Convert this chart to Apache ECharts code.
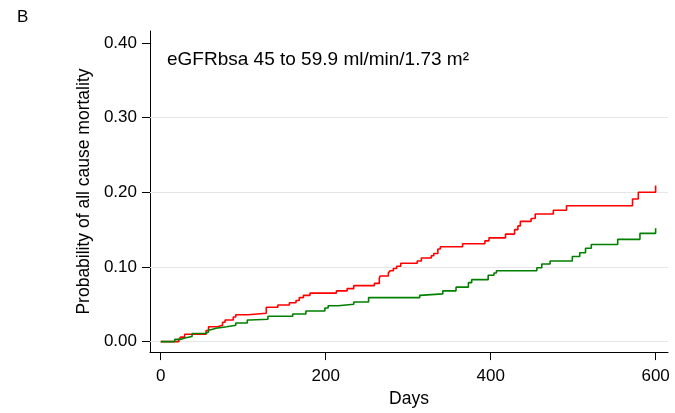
<!DOCTYPE html>
<html>
<head>
<meta charset="utf-8">
<script src="https://cdn.jsdelivr.net/npm/echarts@6/dist/echarts.min.js"></script>
<style>html,body{margin:0;padding:0;background:#fff}#c{width:675px;height:413px}</style>
</head>
<body>
<div id="c"></div>
<script>
// Red group: event day and cumulative probability after the step
const redDays = [0,22,24,29,55,58,69,75,78,88,91,106,128,142,156,164,168,173,181,213,226,234,259,265,266,276,278,282,286,291,311,316,328,331,336,339,366,393,398,418,429,433,436,449,454,476,492,572,579,600];
const redProb = [0,0.003,0.006,0.010,0.015,0.020,0.022,0.026,0.029,0.033,0.036,0.038,0.046,0.049,0.052,0.055,0.059,0.062,0.065,0.068,0.071,0.075,0.078,0.085,0.088,0.092,0.095,0.098,0.101,0.105,0.108,0.112,0.115,0.118,0.124,0.127,0.131,0.135,0.139,0.144,0.150,0.155,0.161,0.165,0.171,0.176,0.182,0.191,0.200,0.209];
// Green group
const greenDays = [0,17,24,29,38,54,58,61,67,80,91,105,108,130,160,176,199,203,215,234,252,314,316,342,358,373,377,397,404,407,456,462,472,499,508,515,522,554,581,600];
const greenProb = [0,0.003,0.005,0.007,0.011,0.013,0.016,0.018,0.020,0.022,0.025,0.029,0.030,0.034,0.037,0.041,0.045,0.048,0.050,0.053,0.059,0.062,0.064,0.068,0.073,0.079,0.083,0.089,0.092,0.095,0.099,0.104,0.108,0.114,0.119,0.125,0.130,0.137,0.145,0.152];
const xTicks = [0, 200, 400, 600];
const yTicks = [0, 0.1, 0.2, 0.3, 0.4];
const gridValues = [0, 0.1, 0.2, 0.3];
const panelLabel = 'B';
const subtitle = 'eGFRbsa 45 to 59.9 ml/min/1.73 m²';
const xName = 'Days';
const yName = 'Probability of all cause mortality';

const zip = (a, b) => a.map((v, i) => [v, b[i]]);
const font = 'Liberation Sans, Arial, sans-serif';

const chart = echarts.init(document.getElementById('c'), null, {renderer: 'canvas'});
chart.setOption({
  animation: false,
  backgroundColor: '#fff',
  textStyle: {fontFamily: font},
  title: [
    {text: panelLabel, left: 12, top: 4, textStyle: {fontSize: 17, fontWeight: 'normal', color: '#000', fontFamily: font}},
    {text: subtitle, left: 162, top: 45, textStyle: {fontSize: 19, fontWeight: 'normal', color: '#000', fontFamily: font}}
  ],
  grid: {left: 150, right: 7, top: 31, bottom: 59, containLabel: false},
  xAxis: {
    type: 'value', min: -13, max: 615,
    name: xName, nameLocation: 'middle', nameGap: 37,
    nameTextStyle: {fontSize: 17.5, color: '#000', fontFamily: font},
    axisLine: {show: true, onZero: false, lineStyle: {color: '#000', width: 1}},
    axisTick: {show: true, length: 8, customValues: xTicks, lineStyle: {color: '#000'}},
    axisLabel: {customValues: xTicks, fontSize: 17, color: '#000', margin: 16, fontFamily: font},
    splitLine: {show: false}
  },
  yAxis: {
    type: 'value', min: -0.014, max: 0.416,
    name: yName, nameLocation: 'middle', nameGap: 49,
    nameTextStyle: {fontSize: 17.5, color: '#000', fontFamily: font},
    axisLine: {show: true, onZero: false, lineStyle: {color: '#000', width: 1}},
    axisTick: {show: true, length: 8, customValues: yTicks, lineStyle: {color: '#000'}},
    axisLabel: {customValues: yTicks, fontSize: 17, color: '#000', margin: 13, fontFamily: font,
      formatter: v => v.toFixed(2)},
    splitLine: {show: false}
  },
  series: [
    {
      type: 'line', step: 'end', data: zip(redDays, redProb), symbol: 'none',
      lineStyle: {color: '#ff0000', width: 1.6}, z: 3,
      markLine: {
        silent: true, symbol: 'none', label: {show: false},
        lineStyle: {color: '#e6e6e6', width: 1, type: 'solid'},
        data: gridValues.map(v => ({yAxis: v})), z: 1
      }
    },
    {
      type: 'line', step: 'end', data: zip(greenDays, greenProb), symbol: 'none',
      lineStyle: {color: '#008000', width: 1.6}, z: 4
    }
  ]
});
</script>
</body>
</html>
